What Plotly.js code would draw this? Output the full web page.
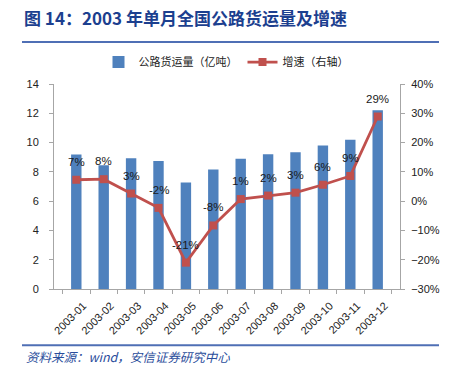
<!DOCTYPE html>
<html><head><meta charset="utf-8">
<script src="https://cdn.plot.ly/plotly-3.0.1.min.js"></script>
<style>html,body{margin:0;padding:0;background:#fff}#c{width:449px;height:371px}</style>
</head><body><div id="c"></div>
<script>
const months = ['2003-01','2003-02','2003-03','2003-04','2003-05','2003-06','2003-07','2003-08','2003-09','2003-10','2003-11','2003-12'];
const freight = [9.18, 8.45, 8.93, 8.75, 7.27, 8.16, 8.89, 9.2, 9.34, 9.8, 10.2, 12.2];
const growth = [0.073, 0.075, 0.026, -0.023, -0.21, -0.083, 0.007, 0.019, 0.029, 0.056, 0.086, 0.289];
const growthLabels = ['7%','8%','3%','-2%','-21%','-8%','1%','2%','3%','6%','9%','29%'];

const L = 54, R = 400, T = 84, B = 289.5, W = 449, H = 371;
const px = x => (x - L) / (R - L);
const py = y => (B - y) / (B - T);
const num = 'Liberation Sans, Arial, "Noto Sans CJK SC", sans-serif';
const cjk = '"Noto Sans CJK SC", sans-serif';

const traces = [
  {type:'bar', name:'公路货运量（亿吨）', x:months, y:freight, marker:{color:'#4f81bd'}, yaxis:'y'},
  {type:'scatter', mode:'lines+markers', name:'增速（右轴）', x:months, y:growth, yaxis:'y2',
   line:{color:'#c0504d', width:2.8}, marker:{symbol:'square', size:8, color:'#c0504d'}}
];
const annotations = months.map((m,i)=>({
  x:m, y:growth[i], xref:'x', yref:'y2', text:growthLabels[i], showarrow:false,
  yshift:18, font:{family:num, size:11.5, color:'#1a1a1a'}
}));
annotations.push({xref:'paper', yref:'paper', x:px(24), y:py(357), xanchor:'left', yanchor:'middle',
  text:'<i>资料来源：wind，安信证券研究中心</i>', showarrow:false, font:{family:cjk, size:12.5, color:'#2a4d9b'}});

const layout = {
  width:W, height:H, margin:{l:L, r:W-R, t:T, b:H-B},
  paper_bgcolor:'#fff', plot_bgcolor:'#fff',
  title:{text:'<b>图 14：2003 年单月全国公路货运量及增速</b>', xref:'container', yref:'container',
    x:24/W, xanchor:'left', y:1-19/H, yanchor:'middle', font:{family:cjk, size:17, color:'#1c3f8f'}},
  bargap:0.62,
  showlegend:true,
  legend:{orientation:'h', x:px(226), xanchor:'center', y:py(62), yanchor:'middle',
    font:{family:cjk, size:11, color:'#222'}, itemwidth:30, traceorder:'normal'},
  xaxis:{type:'category', showline:true, linecolor:'#a6a6a6', linewidth:1, ticks:'outside', tickson:'boundaries',
    ticklen:4, tickcolor:'#a6a6a6', tickangle:-45, ticklabelshift:7, ticklabelstandoff:5,
    tickfont:{family:num, size:11, color:'#222'}, showgrid:false},
  yaxis:{range:[0,14], dtick:2, showline:true, linecolor:'#a6a6a6', ticks:'outside', ticklen:4, tickcolor:'#a6a6a6',
    showgrid:false, zeroline:false, ticklabelstandoff:8, tickfont:{family:num, size:11, color:'#222'}},
  yaxis2:{range:[-0.3,0.4], dtick:0.1, tickformat:'.0%', overlaying:'y', side:'right', showline:true,
    linecolor:'#a6a6a6', ticks:'outside', ticklen:4, tickcolor:'#a6a6a6', showgrid:false, zeroline:false,
    ticklabelstandoff:4, tickfont:{family:num, size:11, color:'#222'}},
  shapes:[
    {type:'line', xref:'paper', yref:'paper', x0:px(22), x1:px(439), y0:py(42), y1:py(42), line:{color:'#4f6fb5', width:2}},
    {type:'line', xref:'paper', yref:'paper', x0:px(22), x1:px(439), y0:py(346), y1:py(346), line:{color:'#4f6fb5', width:2}}
  ],
  annotations:annotations
};
Plotly.newPlot('c', traces, layout, {displayModeBar:false, staticPlot:true});
</script></body></html>
